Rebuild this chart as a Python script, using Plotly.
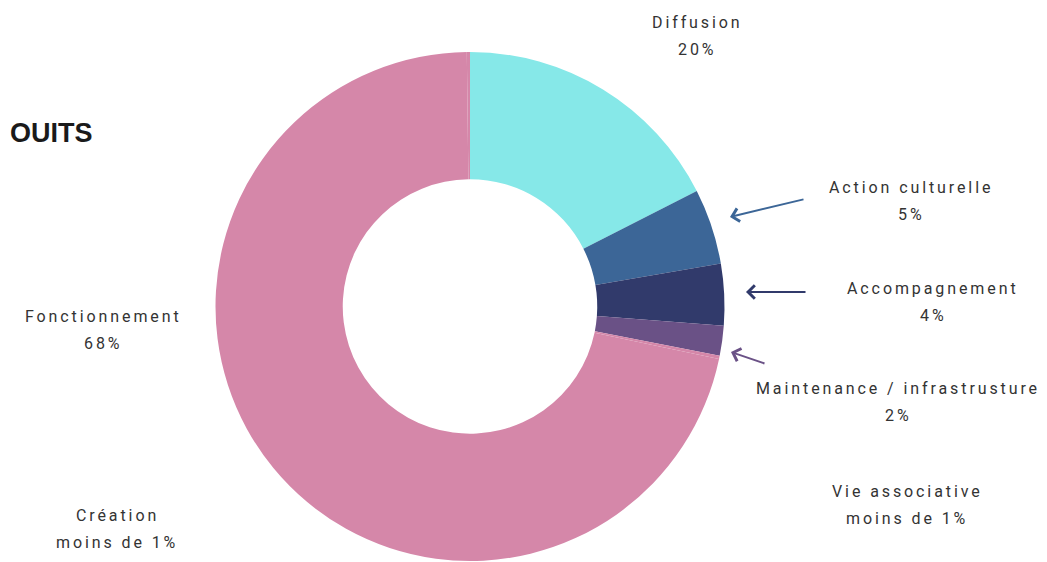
import plotly.graph_objects as go

W, H = 1047, 562
# the page body has an 8px margin, so window pixels are shifted by it
OFF = 8

# slice values (clockwise from 12 o'clock)
categories = ["Diffusion", "Action culturelle", "Accompagnement",
              "Maintenance / infrastrusture", "Vie associative",
              "Fonctionnement", "Création"]
values = [17.5, 4.8, 3.9, 1.9, 0.2, 71.5, 0.2]
colors = ["#86E8E8", "#3C6697", "#313A6B", "#6A5186", "#D587A9",
          "#D587A9", "#D587A9"]

# printed labels
pct_labels = ["20%", "5%", "4%", "2%", "moins de 1%", "68%", "moins de 1%"]


def px(x, y):
    return (x - OFF) / W, 1 - (y - OFF) / H


fig = go.Figure()

x0, y0 = px(215, 561)
x1, y1 = px(725, 52)
fig.add_trace(go.Pie(
    labels=categories,
    values=values,
    hole=0.5,
    sort=False,
    direction="clockwise",
    rotation=0,
    marker=dict(colors=colors, line=dict(width=0)),
    textinfo="none",
    hoverinfo="label+percent",
    showlegend=False,
    domain=dict(x=[x0, x1], y=[y0, y1]),
))

font = dict(family="Roboto", size=16, color="#333333")


def txt(s):
    return '<span style="letter-spacing:2.9px">' + s + "</span>"


# label centres (x, first line y)
label_pos = {
    "Diffusion": (697, 22),
    "Action culturelle": (911, 187),
    "Accompagnement": (933, 288),
    "Maintenance / infrastrusture": (898, 388),
    "Vie associative": (907, 491),
    "Fonctionnement": (103, 316),
    "Création": (117, 515),
}

annotations = []
for name, pct in zip(categories, pct_labels):
    cx, cy = label_pos[name]
    for s, yy in [(name, cy), (pct, cy + 27)]:
        x, y = px(cx, yy)
        annotations.append(dict(
            text=txt(s), x=x, y=y, xref="paper", yref="paper",
            xanchor="center", yanchor="middle", showarrow=False, font=font,
        ))

# arrows: (head x, head y, tail x, tail y, colour)
arrows = [
    (730, 217, 805, 199, "#3C6697"),
    (746, 292, 807, 292, "#313A6B"),
    (731, 352, 766, 364, "#6A5186"),
]
for hx, hy, tx, ty, c in arrows:
    x, y = px(hx, hy)
    annotations.append(dict(
        x=x, y=y, xref="paper", yref="paper", text="",
        showarrow=True, ax=tx - hx, ay=ty - hy,
        arrowhead=4, arrowsize=1.3, arrowwidth=2, arrowcolor=c,
    ))

x, y = px(OFF, 133)
annotations.append(dict(
    text="<b>OUITS</b>", x=x, y=y, xref="paper", yref="paper",
    xanchor="left", yanchor="middle", showarrow=False,
    font=dict(family="Liberation Sans", size=27, color="#1a1a1a"),
))

fig.update_layout(
    width=W, height=H,
    margin=dict(l=0, r=0, t=0, b=0),
    paper_bgcolor="white",
    plot_bgcolor="white",
    annotations=annotations,
)

fig.write_html("out.html")
